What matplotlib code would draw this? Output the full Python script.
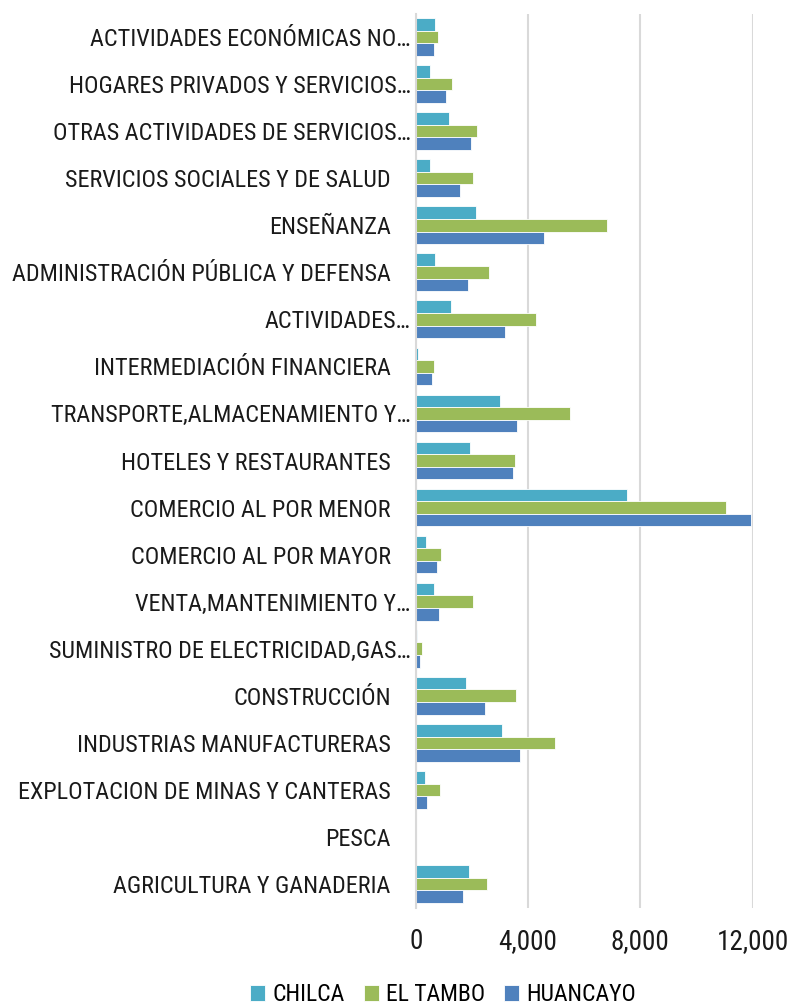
import numpy as np
import matplotlib.pyplot as plt
from matplotlib import font_manager
from matplotlib.transforms import ScaledTranslation

# Sectors, listed bottom to top as they appear on the axis
sectors = [
    "AGRICULTURA Y GANADERIA",
    "PESCA",
    "EXPLOTACION DE MINAS Y CANTERAS",
    "INDUSTRIAS MANUFACTURERAS",
    "CONSTRUCCIÓN",
    "SUMINISTRO DE ELECTRICIDAD,GAS…",
    "VENTA,MANTENIMIENTO Y…",
    "COMERCIO AL POR MAYOR",
    "COMERCIO AL POR MENOR",
    "HOTELES Y RESTAURANTES",
    "TRANSPORTE,ALMACENAMIENTO Y…",
    "INTERMEDIACIÓN FINANCIERA",
    "ACTIVIDADES…",
    "ADMINISTRACIÓN PÚBLICA Y DEFENSA",
    "ENSEÑANZA",
    "SERVICIOS SOCIALES Y DE SALUD",
    "OTRAS ACTIVIDADES DE SERVICIOS…",
    "HOGARES PRIVADOS Y SERVICIOS…",
    "ACTIVIDADES ECONÓMICAS NO…",
]

chilca = [1900, 0, 330, 3060, 1790, 40, 650, 360, 7520, 1950,
          3000, 70, 1260, 680, 2150, 520, 1200, 510, 690]
el_tambo = [2530, 0, 880, 4950, 3580, 210, 2030, 890, 11050, 3530,
            5480, 640, 4270, 2620, 6800, 2050, 2180, 1290, 780]
huancayo = [1700, 0, 420, 3700, 2450, 140, 840, 750, 11930, 3450,
            3620, 580, 3190, 1880, 4580, 1570, 1960, 1070, 650]

series_names = ["CHILCA", "EL TAMBO", "HUANCAYO"]
colors = ["#4BACC6", "#9BBB59", "#4F81BD"]

# narrow sans face if one is around, otherwise the default
installed = set(f.name for f in font_manager.fontManager.ttflist)
narrow = [n for n in ["Arial Narrow", "Liberation Sans Narrow", "Roboto Condensed",
                      "Archivo Narrow", "PT Sans Narrow", "Pragati Narrow"] if n in installed]
plt.rcParams['font.family'] = narrow[:1] + ['DejaVu Sans']
fs_y = 17.4 if narrow else 12
fs_x = 19.5 if narrow else 14
fs_leg = 17 if narrow else 12

fig = plt.figure(figsize=(8, 10.08), dpi=100)
ax = fig.add_axes([415.7 / 800, 1 - 907.5 / 1008, (752.7 - 415.7) / 800, (907.5 - 13.5) / 1008])

y = np.arange(len(sectors))
h = 0.267
for vals, name, col, off in zip([chilca, el_tambo, huancayo], series_names, colors, [h, 0, -h]):
    ax.barh(y + off, vals, height=h, color=col, label=name,
            edgecolor="white", linewidth=0.6)

ax.set_xlim(0, 12000)
ax.set_ylim(-0.5, len(sectors) - 0.5)
ax.set_xticks([0, 4000, 8000, 12000])
ax.set_xticklabels(["0", "4,000", "8,000", "12,000"])
ax.set_yticks(y)
ax.set_yticklabels(sectors)

ax.grid(axis="x", color="#D9D9D9", linewidth=1.5)
ax.set_axisbelow(True)
for s in ["top", "right", "bottom"]:
    ax.spines[s].set_visible(False)
ax.spines["left"].set_color("#D9D9D9")
ax.spines["left"].set_linewidth(1.5)
ax.tick_params(axis="both", length=0, colors="#1a1a1a")
ax.tick_params(axis="y", pad=18, labelsize=fs_y)
ax.tick_params(axis="x", pad=15, labelsize=fs_x)

# truncated names run a little closer to the axis
for lbl in ax.get_yticklabels():
    if lbl.get_text().endswith("…"):
        lbl.set_transform(lbl.get_transform() + ScaledTranslation(0.2, 0, fig.dpi_scale_trans))

fig.legend(*ax.get_legend_handles_labels(), loc="center", bbox_to_anchor=(0.554, 0.013),
           ncol=3, frameon=False, fontsize=fs_leg, handlelength=0.65, handleheight=0.65,
           handletextpad=0.3, columnspacing=0.8)

fig.savefig("out.png", dpi=100)
